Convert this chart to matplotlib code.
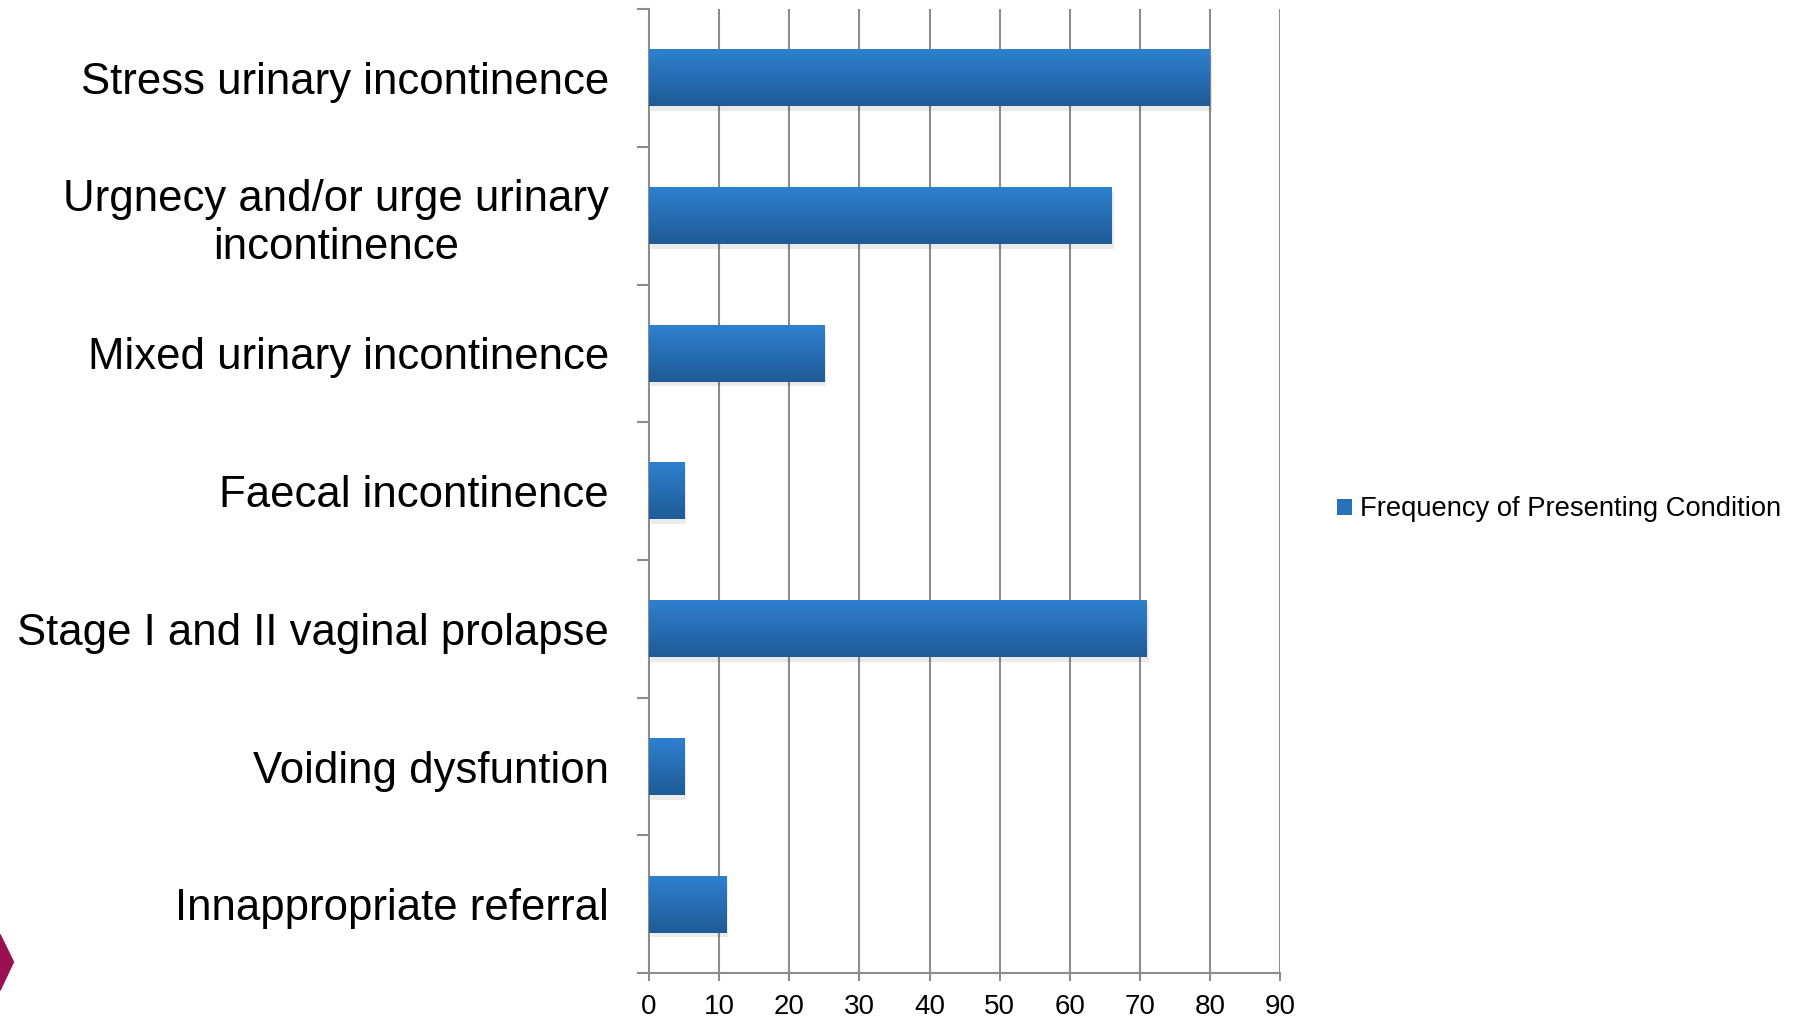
import matplotlib.pyplot as plt
import numpy as np
from matplotlib.patches import Polygon
from matplotlib.colors import LinearSegmentedColormap

plt.rcParams['font.family'] = ['Liberation Sans', 'DejaVu Sans']

categories = ["Stress urinary incontinence",
              "Urgnecy and/or urge urinary\nincontinence",
              "Mixed urinary incontinence",
              "Faecal incontinence",
              "Stage I and II vaginal prolapse",
              "Voiding dysfuntion",
              "Innappropriate referral"]
values = [80, 66, 25, 5, 71, 5, 11]
xticks = [0, 10, 20, 30, 40, 50, 60, 70, 80, 90]
series_name = "Frequency of Presenting Condition"

fig = plt.figure(figsize=(17.98, 10.19), dpi=100)
ax = fig.add_axes([0.361, 0.045, 0.351, 0.946])

y = np.arange(len(categories))[::-1]
bars = ax.barh(y, values, height=0.41, color='#2870BA', label=series_name, zorder=3)

# gradient fill + soft shadow like the original office chart
cmap = LinearSegmentedColormap.from_list('blu', ['#1F5B97', '#2E80CF'])
grad = np.linspace(0, 1, 64).reshape(-1, 1)
for b in bars:
    x0, y0, w, h = b.get_x(), b.get_y(), b.get_width(), b.get_height()
    ax.imshow(grad, cmap=cmap, aspect='auto', origin='lower',
              extent=[x0, x0 + w, y0, y0 + h], zorder=3.1)
    ax.add_patch(plt.Rectangle((x0 + 0.3, y0 - 0.035), w, h, color='#000000',
                               alpha=0.08, lw=0, zorder=2.9))

ax.set_xlim(0, 90)
ax.set_ylim(-0.5, len(categories) - 0.5)
ax.set_xticks(xticks)
ax.set_xticklabels([str(t) for t in xticks], fontsize=20)
ax.set_yticks(y)
ax.set_yticklabels(categories, fontsize=31.5, linespacing=1.2)
for lab in ax.get_yticklabels():
    lab.set_multialignment('center')
ax.set_yticks(np.arange(-0.5, len(categories), 1), minor=True)

ax.tick_params(axis='y', which='major', length=0, pad=29)
ax.tick_params(axis='y', which='minor', length=9, width=1.5, color='#8C8C8C')
ax.tick_params(axis='x', length=6, width=1.5, color='#8C8C8C', pad=9)

ax.grid(axis='x', color='#8C8C8C', lw=1.5, zorder=1)
ax.set_axisbelow(True)
for s in ['top', 'right']:
    ax.spines[s].set_visible(False)
for s in ['left', 'bottom']:
    ax.spines[s].set_color('#8C8C8C')
    ax.spines[s].set_linewidth(1.5)

fig.legend(handles=[bars], labels=[series_name], loc='center left',
           bbox_to_anchor=(0.730, 0.5), frameon=False, fontsize=19.7,
           handlelength=0.55, handleheight=0.55, handletextpad=0.3)

# decorative slide marker at lower left
fig.patches.append(Polygon([[0, 0.083], [0.0075, 0.056], [0, 0.028]], closed=True,
                           transform=fig.transFigure, color='#9B1050'))

fig.savefig('out.png', dpi=100)
